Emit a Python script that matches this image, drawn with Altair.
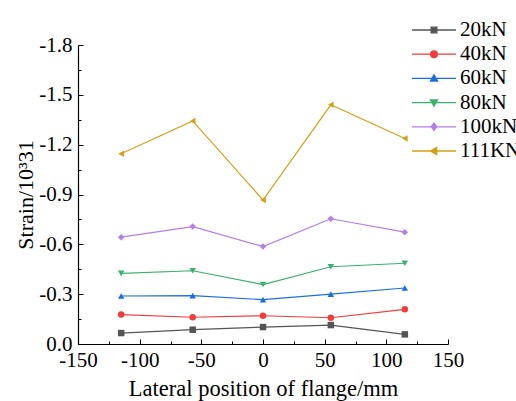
import altair as alt
import pandas as pd

positions = [-115, -57, 0, 55, 115]
series_names = ["20kN", "40kN", "60kN", "80kN", "100kN", "111KN"]
s20 = [-0.066, -0.086, -0.102, -0.114, -0.058]
s40 = [-0.177, -0.161, -0.170, -0.158, -0.209]
s60 = [-0.289, -0.291, -0.267, -0.300, -0.337]
s80 = [-0.425, -0.441, -0.358, -0.465, -0.486]
s100 = [-0.643, -0.707, -0.587, -0.754, -0.673]
s111 = [-1.145, -1.343, -0.867, -1.440, -1.237]
all_series = [s20, s40, s60, s80, s100, s111]

colors = ["#555555", "#f03c3c", "#1a6fdf", "#3bb16e", "#b57ee8", "#d4a017"]
shapes = ["square", "circle", "triangle-up", "triangle-down", "diamond", "triangle-left"]
legend_paths = [
    "M-1,0H1M-0.13,-0.13H0.13V0.13H-0.13Z",
    "M-1,0H1M-0.15,0A0.15,0.15 0 1,0 0.15,0A0.15,0.15 0 1,0 -0.15,0Z",
    "M-1,0H1M0,-0.16L0.16,0.12L-0.16,0.12Z",
    "M-1,0H1M0,0.16L0.16,-0.12L-0.16,-0.12Z",
    "M-1,0H1M0,-0.17L0.13,0L0,0.17L-0.13,0Z",
    "M-1,0H1M-0.16,0L0.12,-0.16L0.12,0.16Z",
]

rows = []
for name, vals in zip(series_names, all_series):
    for p, v in zip(positions, vals):
        rows.append({"series": name, "pos": p, "val": v})
df = pd.DataFrame(rows)

FONT = "Liberation Serif"

x_axis = alt.Axis(
    values=list(range(-150, 151, 25)),
    labelExpr="(datum.value % 50 == 0) ? ((datum.value < 0 ? '-' : '') + format(abs(datum.value), 'd')) : ''",
    tickSize={"condition": {"test": "datum.value % 50 == 0", "value": -5}, "value": -3},
    grid=False,
    domainColor="black", domainWidth=1.2, tickColor="black", tickWidth=1,
    labelFont=FONT, labelFontSize=21, labelColor="black", labelPadding=10.5,
    labelFlush=False, labelOverlap=False,
    title="Lateral position of flange/mm", titleFont=FONT, titleFontSize=22.5,
    titleFontWeight="normal", titleColor="black", titlePadding=5,
)
y_axis = alt.Axis(
    values=[round(-1.8 + 0.15 * i, 2) for i in range(13)],
    labelExpr="(round(datum.value * 100) % 30 == 0) ? ((datum.value < 0 ? '-' : '') + format(abs(datum.value), '.1f')) : ''",
    tickSize={"condition": {"test": "round(datum.value * 100) % 30 == 0", "value": -5}, "value": -3},
    grid=False,
    domainColor="black", domainWidth=1.2, tickColor="black", tickWidth=1,
    labelFont=FONT, labelFontSize=21, labelColor="black", labelPadding=11,
    labelFlush=False, labelOverlap=False,
    title="Strain/10³31", titleFont=FONT, titleFontSize=22,
    titleFontWeight="normal", titleColor="black", titlePadding=1,
)

x_enc = alt.X("pos:Q", scale=alt.Scale(domain=[-150, 150], nice=False, zero=False), axis=x_axis)
y_enc = alt.Y("val:Q", scale=alt.Scale(domain=[-1.8, 0], reverse=True, nice=False, zero=False), axis=y_axis)
# colour scale for the data marks (domain listed in reverse so its legend is kept apart)
color_enc = alt.Color(
    "series:N",
    scale=alt.Scale(domain=series_names[::-1], range=colors[::-1]),
    legend=None,
)

base = alt.Chart(df)

lines = base.mark_line(strokeWidth=1.2).encode(
    x=x_enc, y=y_enc, color=color_enc, order="pos:Q"
)

point_layers = []
for name, shp in zip(series_names, shapes):
    point_layers.append(
        base.transform_filter(alt.datum.series == name)
        .mark_point(shape=shp, filled=True, size=42, opacity=1)
        .encode(x=x_enc, y=y_enc, color=color_enc)
    )

leg = alt.Legend(
    orient="none", legendX=333, legendY=-26, title=None, padding=0,
    clipHeight=22, rowPadding=2.2, symbolSize=1936, symbolStrokeWidth=1.3,
    symbolOpacity=1, labelOffset=3, labelFont=FONT, labelFontSize=21,
    labelColor="black", labelLimit=200,
)
legend_layer = base.mark_point(
    filled=True, size=1936, opacity=0, strokeWidth=1.3
).encode(
    x=x_enc, y=y_enc,
    fill=alt.Fill("series:N", scale=alt.Scale(domain=series_names, range=colors), legend=leg),
    stroke=alt.Stroke("series:N", scale=alt.Scale(domain=series_names, range=colors), legend=leg),
    shape=alt.Shape("series:N", scale=alt.Scale(domain=series_names, range=legend_paths), legend=leg),
)

chart = alt.layer(lines, *point_layers, legend_layer).properties(
    width=370, height=299,
    autosize=alt.AutoSizeParams(type="none"),
    padding={"left": 78, "top": 45, "right": 68, "bottom": 57},
).configure_view(stroke=None)

chart.save("out.html", embed_options={"renderer": "svg", "actions": False})
